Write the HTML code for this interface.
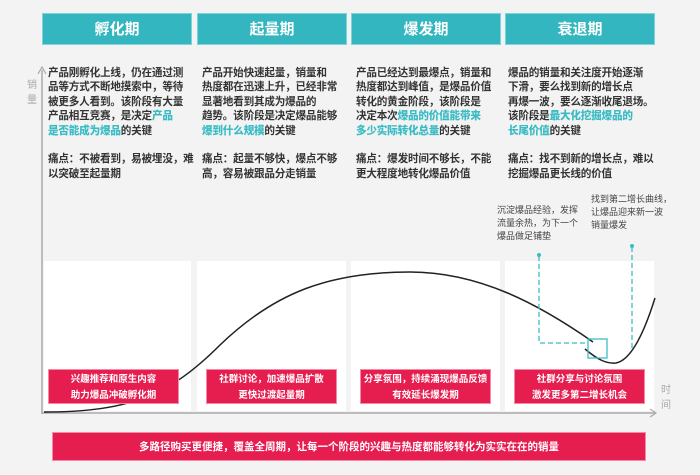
<!DOCTYPE html>
<html><head><meta charset="utf-8"><style>
body{margin:0;width:700px;height:475px;background:#f3f3f3;font-family:"Liberation Sans","Noto Sans CJK SC",sans-serif;position:relative;overflow:hidden}
.h{position:absolute;top:13px;height:32px;background:#33b6bf;color:#fff;font-weight:bold;font-size:15px;text-align:center;line-height:32px;border:1px solid #7fd3d8;box-sizing:border-box}
.t{position:absolute;top:66px;font-size:10.6px;line-height:14.4px;color:#333;font-weight:bold;white-space:nowrap;letter-spacing:-0.2px}
.t b{color:#3bbcc5}
.w{position:absolute;top:261px;height:150px;background:#fff}
.p{position:absolute;top:369px;height:35px;background:#e61e50;color:#fff;font-size:9.5px;font-weight:bold;text-align:center;line-height:16px;padding-top:2px;box-sizing:border-box;border:1px solid #f58aa5}
.a{position:absolute;font-size:9px;line-height:13px;color:#444;white-space:nowrap}
</style></head><body>
<div class="h" style="left:42px;width:150px">孵化期</div>
<div class="h" style="left:197px;width:150px">起量期</div>
<div class="h" style="left:351px;width:150px">爆发期</div>
<div class="h" style="left:505px;width:150px">衰退期</div>
<div style="position:absolute;left:27px;top:78px;font-size:10px;color:#aaa;line-height:15px;width:10px">销量</div>
<div class="t" style="left:48px">产品刚孵化上线，仍在通过测<br>品等方式不断地摸索中，等待<br>被更多人看到。该阶段有大量<br>产品相互竞赛，是决定<b>产品</b><br><b>是否能成为爆品</b>的关键<br><br>痛点：不被看到，易被埋没，难<br>以突破至起量期</div>
<div class="t" style="left:202px">产品开始快速起量，销量和<br>热度都在迅速上升，已经非常<br>显著地看到其成为爆品的<br>趋势。该阶段是决定爆品能够<br><b>爆到什么规模</b>的关键<br><br>痛点：起量不够快，爆点不够<br>高，容易被跟品分走销量</div>
<div class="t" style="left:356px">产品已经达到最爆点，销量和<br>热度都达到峰值，是爆品价值<br>转化的黄金阶段，该阶段是<br>决定本次<b>爆品的价值能带来</b><br><b>多少实际转化总量</b>的关键<br><br>痛点：爆发时间不够长，不能<br>更大程度地转化爆品价值</div>
<div class="t" style="left:508px">爆品的销量和关注度开始逐渐<br>下滑，要么找到新的增长点<br>再爆一波，要么逐渐收尾退场。<br>该阶段是<b>最大化挖掘爆品的</b><br><b>长尾价值</b>的关键<br><br>痛点：找不到新的增长点，难以<br>挖掘爆品更长线的价值</div>
<div class="w" style="left:44px;width:147px"></div>
<div class="w" style="left:197px;width:149px"></div>
<div class="w" style="left:351px;width:149px"></div>
<div class="w" style="left:505px;width:149px"></div>
<div class="a" style="left:497px;top:204px">沉淀爆品经验，发挥<br>流量余热，为下一个<br>爆品做足铺垫</div>
<div class="a" style="left:591px;top:193px">找到第二增长曲线，<br>让爆品迎来新一波<br>销量爆发</div>
<svg style="position:absolute;left:0;top:0" width="700" height="475">
<line x1="42" y1="70" x2="42" y2="414" stroke="#aaa" stroke-width="1.5"/>
<path d="M38,74 L42,67 L46,74" fill="none" stroke="#aaa" stroke-width="1.2"/>
<line x1="42" y1="413" x2="655" y2="413" stroke="#aaa" stroke-width="1.5"/>
<path d="M650,409 L656,413 L650,417" fill="none" stroke="#aaa" stroke-width="1.2"/>
<path d="M44,412 C130,412 170,395 220,345 C275,292 330,272 410,272 C480,272 540,305 593,342" fill="none" stroke="#222" stroke-width="1.5"/>
<path d="M585,349 C598,360 607,364 616,363 C632,360 645,330 655,298" fill="none" stroke="#222" stroke-width="1.5"/>
<path d="M539,256 V343 H588" fill="none" stroke="#3bbcc5" stroke-width="1.3" stroke-dasharray="5,3"/>
<path d="M632,247 V350" fill="none" stroke="#3bbcc5" stroke-width="1.3" stroke-dasharray="5,3"/>
<circle cx="539" cy="255" r="2" fill="#3bbcc5"/><circle cx="632" cy="246" r="2" fill="#3bbcc5"/>
<rect x="588" y="339" width="19" height="19" fill="none" stroke="#3bbcc5" stroke-width="1.3"/>
</svg>
<div class="p" style="left:48px;width:131px">兴趣推荐和原生内容<br>助力爆品冲破孵化期</div>
<div class="p" style="left:206px;width:131px">社群讨论，加速爆品扩散<br>更快过渡起量期</div>
<div class="p" style="left:360px;width:131px">分享氛围，持续涌现爆品反馈<br>有效延长爆发期</div>
<div class="p" style="left:514px;width:131px">社群分享与讨论氛围<br>激发更多第二增长机会</div>
<div style="position:absolute;left:661px;top:383px;font-size:10px;color:#aaa;line-height:15px;width:10px">时间</div>
<div style="position:absolute;left:52px;top:432px;width:594px;height:29px;background:#e61e50;color:#fff;font-size:10.5px;font-weight:bold;text-align:center;line-height:29px;border:1px solid #f58aa5;box-sizing:border-box">多路径购买更便捷，覆盖全周期，让每一个阶段的兴趣与热度都能够转化为实实在在的销量</div>
</body></html>
